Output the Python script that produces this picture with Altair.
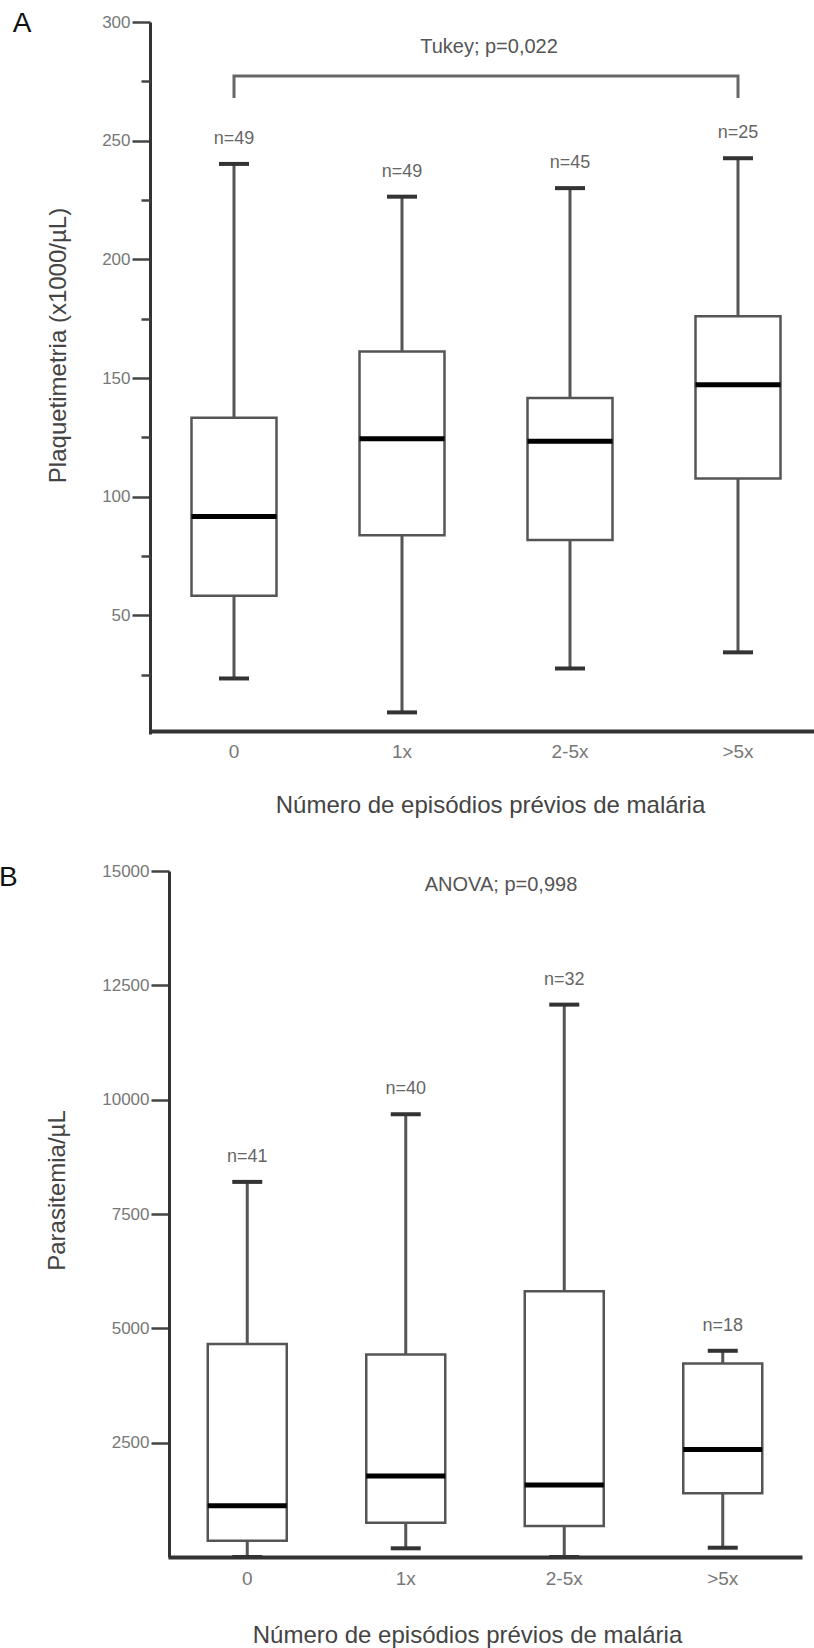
import altair as alt
import pandas as pd

FONT = "Liberation Sans"

categories = ["0", "1x", "2-5x", ">5x"]

# Panel A - Plaquetimetria (x1000/µL)
a_min = [23.4, 9.1, 27.6, 34.4]
a_q1 = [58.2, 83.7, 81.7, 107.7]
a_median = [91.6, 124.4, 123.4, 147.2]
a_q3 = [133.2, 161.2, 141.6, 176.0]
a_max = [240.2, 226.4, 230.0, 242.6]
a_n = ["n=49", "n=49", "n=45", "n=25"]
a_ticks = [50, 100, 150, 200, 250, 300]
a_minor_ticks = [25, 75, 125, 175, 225, 275]
a_test = "Tukey; p=0,022"
a_bracket_top = 277.2
a_bracket_leg = 268.0

# Panel B - Parasitemia/µL
b_min = [0, 190, 0, 203]
b_q1 = [357, 750, 677, 1392]
b_median = [1121, 1770, 1573, 2353]
b_q3 = [4655, 4429, 5813, 4233]
b_max = [8202, 9681, 12078, 4509]
b_n = ["n=41", "n=40", "n=32", "n=18"]
b_ticks = [2500, 5000, 7500, 10000, 12500, 15000]
b_test = "ANOVA; p=0,998"

x_title = "Número de episódios prévios de malária"


def frame(mn, q1, med, q3, mx, n):
    return pd.DataFrame({"cat": categories, "min": mn, "q1": q1, "median": med,
                         "q3": q3, "max": mx, "n": n})


def panel(df, x_range, box_w, y_domain, y_range, y_axis, x_axis, minor_axis=None):
    xs = alt.Scale(domain=categories, range=x_range, paddingInner=0, paddingOuter=0)
    ys = alt.Scale(domain=y_domain, range=y_range, nice=False, zero=False)

    def X(axis=None):
        return alt.X("cat:N", scale=xs, axis=axis, sort=categories)

    base = alt.Chart(df)
    whisk = base.mark_rule(color="#555", strokeWidth=3).encode(
        x=X(), y=alt.Y("min:Q", scale=ys, axis=y_axis), y2="max:Q")
    box = base.mark_bar(size=box_w, fill="white", stroke="#555", strokeWidth=2.5).encode(
        x=X(x_axis), y=alt.Y("q1:Q", scale=ys, axis=None), y2="q3:Q")
    med = base.mark_tick(size=box_w, thickness=5, color="#000", opacity=1).encode(
        x=X(), y=alt.Y("median:Q", scale=ys, axis=None))
    if minor_axis is not None:
        ymax = alt.Y("max:Q", scale=ys, axis=minor_axis)
    else:
        ymax = alt.Y("max:Q", scale=ys, axis=None)
    capmax = base.mark_tick(size=30, thickness=4, color="#333", opacity=1).encode(x=X(), y=ymax)
    capmin = base.mark_tick(size=30, thickness=4, color="#333", opacity=1).encode(
        x=X(), y=alt.Y("min:Q", scale=ys, axis=None))
    nlab = base.mark_text(dy=-25, fontSize=18, color="#666", font=FONT).encode(
        x=X(), y=alt.Y("max:Q", scale=ys, axis=None), text="n:N")
    return [whisk, box, med, capmax, capmin, nlab], xs, ys


def y_axis(offset, values, title, title_x, title_y):
    return alt.Axis(orient="left", offset=offset, values=values, format="d",
                    tickSize=18, tickWidth=2.5, tickColor="#444",
                    domainColor="#333", domainWidth=3, grid=False,
                    labelFontSize=17, labelColor="#777", labelPadding=2, labelFont=FONT,
                    title=title, titleX=title_x, titleY=title_y, titleAngle=270,
                    titleAlign="center", titleBaseline="middle", titleFontSize=24,
                    titleFontWeight="normal", titleColor="#444", titleFont=FONT)


def x_axis(offset, pad, title_x, title_y):
    return alt.Axis(orient="bottom", offset=offset, ticks=False, tickSize=0,
                    domainColor="#333", domainWidth=4, grid=False, labelAngle=0,
                    labelFontSize=19, labelColor="#777", labelPadding=pad,
                    labelBaseline="alphabetic", labelFont=FONT,
                    title=x_title, titleX=title_x, titleY=title_y, titleAlign="center",
                    titleBaseline="alphabetic", titleFontSize=24, titleFontWeight="normal",
                    titleColor="#444", titleFont=FONT)


dfA = frame(a_min, a_q1, a_median, a_q3, a_max, a_n)
dfB = frame(b_min, b_q1, b_median, b_q3, b_max, b_n)

minorA = alt.Axis(orient="left", offset=-150, values=a_minor_ticks, tickSize=9,
                  tickWidth=2.5, tickColor="#444", labels=False, domain=False,
                  grid=False, title="")

layersA, xsA, ysA = panel(
    dfA, [150, 822], 85, [0, 300], [734, 22],
    y_axis(-150, a_ticks, "Plaquetimetria (x1000/µL)", -92, 345),
    x_axis(-917, 26, 490, 81), minorA)

layersB, xsB, ysB = panel(
    dfB, [168, 802], 79, [0, 15000], [1557, 871],
    y_axis(-169, b_ticks, "Parasitemia/µL", -112, 1190),
    x_axis(-91, 27, 467, 85))

# Bracket for the Tukey comparison (0 vs >5x)
bracket = pd.DataFrame({
    "cat": [categories[0], categories[0], categories[3], categories[3]],
    "v": [a_bracket_leg, a_bracket_top, a_bracket_top, a_bracket_leg],
    "o": [0, 1, 2, 3],
})
bracket_layer = alt.Chart(bracket).mark_line(color="#666", strokeWidth=3, strokeJoin="miter").encode(
    x=alt.X("cat:N", scale=xsA, axis=None), y=alt.Y("v:Q", scale=ysA, axis=None), order="o:Q")


def label(text, x, y, size, color, align="center"):
    return alt.Chart(pd.DataFrame({"t": [text]})).mark_text(
        fontSize=size, color=color, font=FONT, align=align, baseline="middle").encode(
        text="t:N", x=alt.value(x), y=alt.value(y))


annotations = [
    label("A", 22, 24, 28, "#111"),
    label("B", -1, 878, 28, "#111", align="left"),
    label(a_test, 489, 47, 20, "#555"),
    label(b_test, 501, 885, 20, "#555"),
]

chart = alt.layer(*layersA, bracket_layer, *layersB, *annotations).resolve_scale(
    x="independent", y="independent"
).properties(
    width=814, height=1648, padding=0,
    autosize=alt.AutoSizeParams(type="none"),
    background="white",
).configure_view(stroke=None)

chart.save("out.html", embed_options={"renderer": "svg", "actions": False})
